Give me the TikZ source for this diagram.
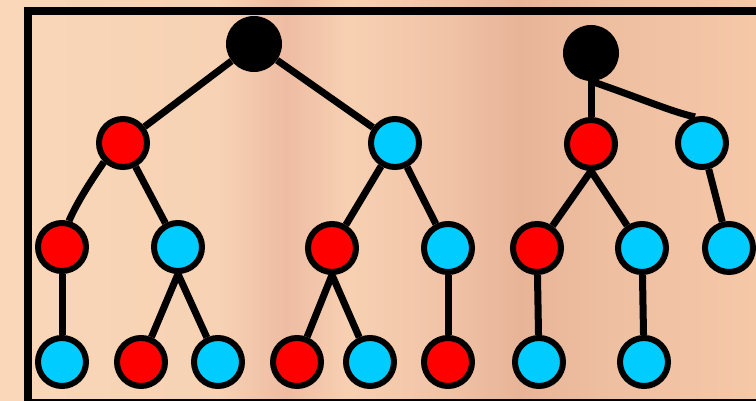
\documentclass[tikz,border=0pt]{standalone}
\usepackage{xcolor}
\usepackage{tikz}
\usetikzlibrary{positioning}
\definecolor{NodeRed}{RGB}{255,0,0}
\definecolor{NodeCyan}{RGB}{0,204,255}
\definecolor{PeachA}{RGB}{249,215,184}
\definecolor{PeachB}{RGB}{247,210,180}
\definecolor{PeachC}{RGB}{238,188,162}
\definecolor{PeachD}{RGB}{247,208,178}
\definecolor{PeachE}{RGB}{241,196,168}
\definecolor{PeachF}{RGB}{232,180,152}
\definecolor{PeachG}{RGB}{238,190,160}
\definecolor{PeachH}{RGB}{245,200,168}
\pgfdeclarehorizontalshading{peachbg}{100bp}{color(0bp)=(PeachA); color(25bp)=(PeachA); color(39.5bp)=(PeachB); color(43.9bp)=(PeachC); color(48bp)=(PeachD); color(54.1bp)=(PeachE); color(59.4bp)=(PeachF); color(64.7bp)=(PeachG); color(75bp)=(PeachH); color(100bp)=(PeachH)}

\begin{document}
\begin{tikzpicture}[
  x=1pt, y=-1pt,
  rd/.style={circle,draw=black,line width=6pt,fill=NodeRed,minimum size=48pt,inner sep=0pt},
  cy/.style={rd,fill=NodeCyan},
  rootnode/.style={circle,fill=black,minimum size=56pt,inner sep=0pt},
  ed/.style={line width=7pt,draw=black}
]
\useasboundingbox (0,0) rectangle (756,401);
\clip (0,0) rectangle (756,401);
\shade[shading=peachbg] (0,0) rectangle (756,401);
\draw[line width=8pt] (770,11) -- (27.5,11) -- (27.5,403) -- (770,403);
% first tree
\node[rootnode] (ra) at (254,44) {};
\node[rd] (ra1) at (123,143) {};
\node[cy] (ra2) at (395,143) {};
\node[rd] (ra11) at (62,247) {};
\node[cy] (ra12) at (178,247) {};
\node[rd] (ra21) at (332,248) {};
\node[cy] (ra22) at (448,248) {};
\node[cy] (ra111) at (62,362) {};
\node[rd] (ra121) at (141,362) {};
\node[cy] (ra122) at (218,362) {};
\node[rd] (ra211) at (297,362) {};
\node[cy] (ra212) at (370,362) {};
\node[rd] (ra221) at (448,362) {};
% second tree
\node[rootnode] (rb) at (591,53) {};
\node[rd] (rb1) at (591,144) {};
\node[cy] (rb2) at (702,143) {};
\node[rd] (rb11) at (537,248) {};
\node[cy] (rb12) at (642,248) {};
\node[cy] (rb21) at (729,248) {};
\node[cy] (rb111) at (539,362) {};
\node[cy] (rb121) at (644,362) {};
\draw[ed] (ra) -- (ra1);
\draw[ed] (ra) -- (ra2);
\draw[ed] (ra1.225) .. controls (95,175) and (78,200) .. (ra11.75);
\draw[ed] (ra1) -- (ra12);
\draw[ed] (ra2) -- (ra21);
\draw[ed] (ra2) -- (ra22);
\draw[ed] (ra11) -- (ra111);
\draw[ed] (ra12.south) -- (ra121);
\draw[ed] (ra12.south) -- (ra122);
\draw[ed] (ra21.south) -- (ra211);
\draw[ed] (ra21.south) -- (ra212);
\draw[ed] (ra22) -- (ra221);
\draw[ed] (rb) -- (rb1);
\draw[ed] (rb.south) .. controls (640,98) and (672,112) .. (rb2.105);
\draw[ed] (rb1.south) -- (rb11);
\draw[ed] (rb1.south) -- (rb12);
\draw[ed] (rb2) -- (rb21);
\draw[ed] (rb11) -- (rb111);
\draw[ed] (rb12) -- (rb121);
\end{tikzpicture}
\end{document}
